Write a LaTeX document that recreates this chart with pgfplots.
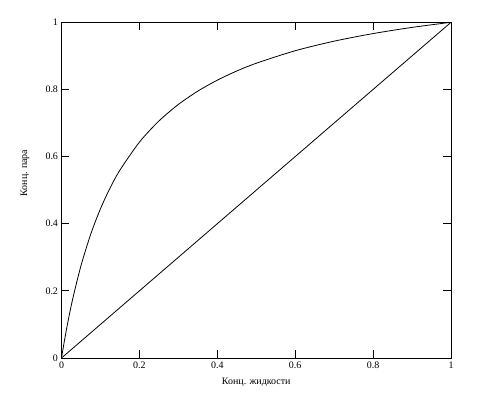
\documentclass[border=0pt]{standalone}
\usepackage{pgfplots}
\pgfplotsset{compat=1.18}
\usepackage{fontspec}
\setmainfont{Liberation Serif}
\begin{document}
\fontsize{10}{12}\selectfont
\begin{tikzpicture}
\begin{axis}[
  scale only axis,
  width=389.5bp, height=335.7bp,
  xmin=0, xmax=1, ymin=0, ymax=1,
  xtick={0,0.2,0.4,0.6,0.8,1},
  ytick={0,0.2,0.4,0.6,0.8,1},
  tick align=inside,
  major tick length=8bp,
  tick style={black, line width=0.8bp},
  axis line style={line width=0.8bp},
  /pgf/number format/assume math mode=true,
  ticklabel style={font=\fontsize{10}{12}\selectfont},
  xlabel={Конц. жидкости},
  ylabel={Конц. пара},
  label style={font=\fontsize{10}{12}\selectfont},
  xlabel style={at={(axis description cs:0.5,-0.073)}, anchor=center},
  ylabel style={at={(axis description cs:-0.094,0.551)}, anchor=center, rotate=0},
]
\addplot[black, line width=0.8bp, smooth] coordinates {
(0,0) (0.01,0.0678) (0.02,0.1281) (0.03,0.1821) (0.05,0.2748) (0.075,0.3686)
(0.1,0.4444) (0.125,0.5070) (0.15,0.5596) (0.2,0.6429) (0.25,0.7059)
(0.3,0.7552) (0.35,0.7950) (0.4,0.8276) (0.45,0.8549) (0.5,0.8780)
(0.6,0.9153) (0.7,0.9438) (0.8,0.9664) (0.9,0.9848) (1,1)
};
\addplot[black, line width=0.8bp] coordinates {(0,0) (1,1)};
\end{axis}
\path ([xshift=-61.5bp,yshift=-44bp]current axis.south west) rectangle ([xshift=43bp,yshift=22.3bp]current axis.north east);
\end{tikzpicture}
\end{document}
